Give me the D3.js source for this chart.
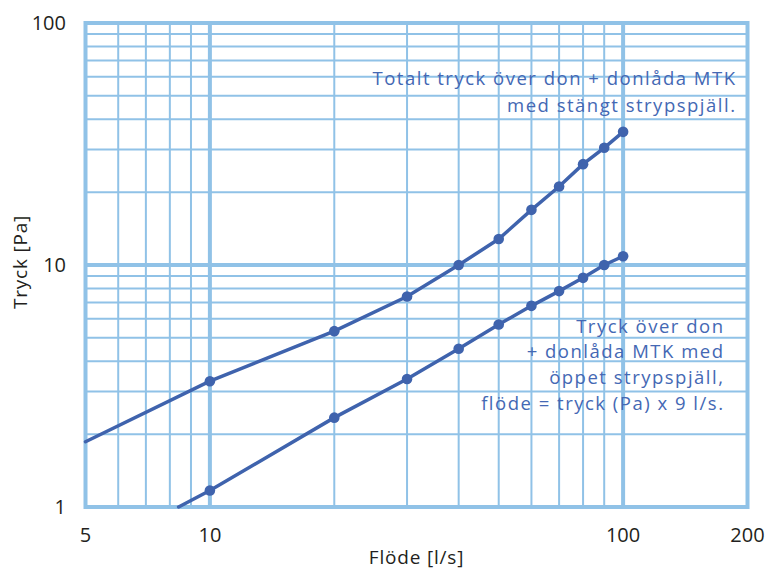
<!DOCTYPE html>
<html lang="sv">
<head>
    <meta charset="UTF-8">
    <script src="https://d3js.org/d3.v7.min.js"></script>
    <style>
        body {
            margin: 0;
            background-color: #fff;
            font-family: "Open Sans", "Liberation Sans", Arial, sans-serif;
        }
        .tick-label {
            font-size: 20px;
            fill: #231f20;
        }
        .axis-title {
            font-size: 19px;
            letter-spacing: 0.8px;
            fill: #231f20;
        }
        .note {
            font-size: 18.5px;
            letter-spacing: 1.5px;
            fill: #4468b4;
        }
    </style>
</head>
<body>
<div id="chart"></div>

<script>
    // values
    const flow = [10, 20, 30, 40, 50, 60, 70, 80, 90, 100];
    const pressureClosed = [3.31, 5.33, 7.41, 10.0, 12.8, 16.9, 21.1, 26.1, 30.5, 35.5];
    const pressureOpen = [1.17, 2.34, 3.38, 4.51, 5.68, 6.78, 7.8, 8.85, 10.0, 10.87];
    // where the lines start (no marker)
    const closedStart = [5, 1.86];
    const openStart = [8.4, 1.0];

    const xTicks = [5, 10, 100, 200];
    const yTicks = [1, 10, 100];
    const xGridMinor = [6, 7, 8, 9, 20, 30, 40, 50, 60, 70, 80, 90];
    const yGridMinor = [2, 3, 4, 5, 6, 7, 8, 9, 20, 30, 40, 50, 60, 70, 80, 90];
    const xGridMajor = [10, 100];
    const yGridMajor = [10];

    const noteClosed = ["Totalt tryck över don + donlåda MTK", "med stängt strypspjäll."];
    const noteOpen = ["Tryck över don", "+ donlåda MTK med", "öppet strypspjäll,", "flöde = tryck (Pa) x 9 l/s."];

    const W = 767, H = 570;
    const margin = {top: 23, right: 19.5, bottom: 63, left: 85.5};

    const svg = d3.select("#chart").append("svg")
        .attr("width", W)
        .attr("height", H);

    const x = d3.scaleLog()
        .domain([5, 200])
        .range([margin.left, W - margin.right]);

    const y = d3.scaleLog()
        .domain([1, 100])
        .range([H - margin.bottom, margin.top]);

    const gridColor = "#90c2e7";
    const lineColor = "#3f63ad";

    const grid = svg.append("g");

    grid.selectAll(".vminor")
        .data(xGridMinor)
        .enter()
        .append("line")
        .attr("x1", d => x(d)).attr("x2", d => x(d))
        .attr("y1", y(1)).attr("y2", y(100))
        .attr("stroke", gridColor)
        .attr("stroke-width", 2);

    grid.selectAll(".hminor")
        .data(yGridMinor)
        .enter()
        .append("line")
        .attr("y1", d => y(d)).attr("y2", d => y(d))
        .attr("x1", x(5)).attr("x2", x(200))
        .attr("stroke", gridColor)
        .attr("stroke-width", 2);

    grid.selectAll(".vmajor")
        .data(xGridMajor)
        .enter()
        .append("line")
        .attr("x1", d => x(d)).attr("x2", d => x(d))
        .attr("y1", y(1)).attr("y2", y(100))
        .attr("stroke", gridColor)
        .attr("stroke-width", 4);

    grid.selectAll(".hmajor")
        .data(yGridMajor)
        .enter()
        .append("line")
        .attr("y1", d => y(d)).attr("y2", d => y(d))
        .attr("x1", x(5)).attr("x2", x(200))
        .attr("stroke", gridColor)
        .attr("stroke-width", 4);

    // frame
    grid.append("rect")
        .attr("x", x(5))
        .attr("y", y(100))
        .attr("width", x(200) - x(5))
        .attr("height", y(1) - y(100))
        .attr("fill", "none")
        .attr("stroke", gridColor)
        .attr("stroke-width", 4);

    // annotations
    const notes = svg.append("g");
    noteClosed.forEach((t, i) => {
        notes.append("text")
            .attr("class", "note")
            .attr("text-anchor", "end")
            .attr("x", 736.5)
            .attr("y", 85 + i * 26.5)
            .text(t);
    });
    noteOpen.forEach((t, i) => {
        notes.append("text")
            .attr("class", "note")
            .attr("text-anchor", "end")
            .attr("x", 724.5)
            .attr("y", 332.5 + i * 25.8)
            .text(t);
    });

    // series
    const series = [
        {values: pressureClosed, start: closedStart},
        {values: pressureOpen, start: openStart}
    ];

    const line = d3.line()
        .x(d => x(d[0]))
        .y(d => y(d[1]));

    series.forEach(s => {
        const pts = flow.map((f, i) => [f, s.values[i]]);

        svg.append("path")
            .datum([s.start].concat(pts))
            .attr("fill", "none")
            .attr("stroke", lineColor)
            .attr("stroke-width", 3.5)
            .attr("stroke-linecap", "round")
            .attr("d", line);

        svg.selectAll(null)
            .data(pts)
            .enter()
            .append("circle")
            .attr("cx", d => x(d[0]))
            .attr("cy", d => y(d[1]))
            .attr("r", 5.3)
            .attr("fill", lineColor);
    });

    // tick labels
    svg.selectAll(".xt")
        .data(xTicks)
        .enter()
        .append("text")
        .attr("class", "tick-label")
        .attr("text-anchor", "middle")
        .attr("x", d => x(d))
        .attr("y", 542)
        .text(d => d);

    svg.selectAll(".yt")
        .data(yTicks)
        .enter()
        .append("text")
        .attr("class", "tick-label")
        .attr("text-anchor", "end")
        .attr("x", 66)
        .attr("y", d => y(d) + 7)
        .text(d => d);

    svg.append("text")
        .attr("class", "axis-title")
        .attr("text-anchor", "middle")
        .attr("x", (x(5) + x(200)) / 2)
        .attr("y", 564)
        .text("Flöde [l/s]");

    svg.append("text")
        .attr("class", "axis-title")
        .attr("text-anchor", "middle")
        .attr("transform", "rotate(-90)")
        .attr("x", -262)
        .attr("y", 27)
        .text("Tryck [Pa]");
</script>
</body>
</html>
